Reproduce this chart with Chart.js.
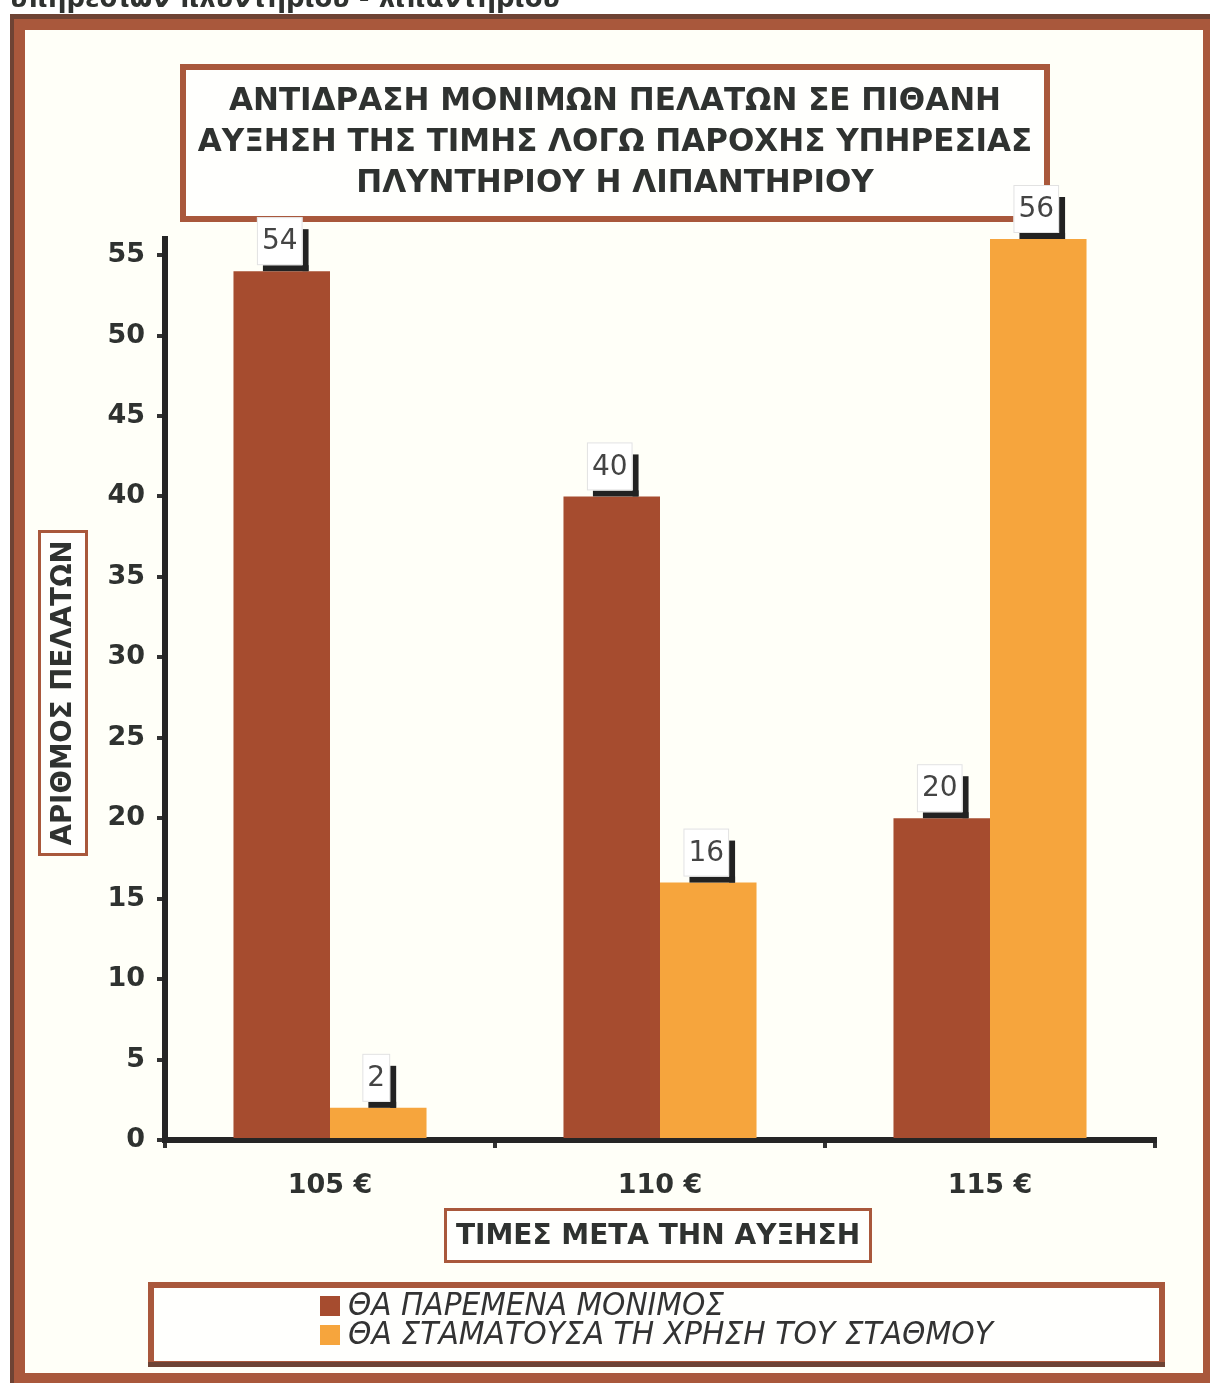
<!DOCTYPE html>
<html>
<head>
<meta charset="utf-8">
<script src="https://cdn.jsdelivr.net/npm/chart.js@4.4.1/dist/chart.umd.min.js"></script>
<style>
  html, body { margin: 0; padding: 0; background: #fff; }
  canvas { display: block; }
</style>
</head>
<body>
<canvas id="myChart" width="1210" height="1383"></canvas>
<script>
// Τιμές μετά την αύξηση και απαντήσεις πελατών
const categories = ["105 €", "110 €", "115 €"];
const stayed = [54, 40, 20];
const stopped = [2, 16, 56];
const seriesNames = ["ΘΑ ΠΑΡΕΜΕΝΑ ΜΟΝΙΜΟΣ", "ΘΑ ΣΤΑΜΑΤΟΥΣΑ ΤΗ ΧΡΗΣΗ ΤΟΥ ΣΤΑΘΜΟΥ"];
const titleLines = [
  "ΑΝΤΙΔΡΑΣΗ ΜΟΝΙΜΩΝ ΠΕΛΑΤΩΝ ΣΕ ΠΙΘΑΝΗ",
  "ΑΥΞΗΣΗ ΤΗΣ ΤΙΜΗΣ ΛΟΓΩ ΠΑΡΟΧΗΣ ΥΠΗΡΕΣΙΑΣ",
  "ΠΛΥΝΤΗΡΙΟΥ Η ΛΙΠΑΝΤΗΡΙΟΥ"
];
const yTitle = "ΑΡΙΘΜΟΣ ΠΕΛΑΤΩΝ";
const xTitle = "ΤΙΜΕΣ ΜΕΤΑ ΤΗΝ ΑΥΞΗΣΗ";
const topCaption = "υπηρεσιών πλυντήριου - λιπαντήριου";
const yTickValues = [0, 5, 10, 15, 20, 25, 30, 35, 40, 45, 50, 55];
const yMax = 56;

const BROWN = "#a64c2f";
const ORANGE = "#f6a53d";
const FRAME = "#a9583c";
const INK = "#2f3230";
const FONT = '"DejaVu Sans", sans-serif';

function boxed(ctx, x, y, w, h, lw) {
  ctx.fillStyle = "#fffffd";
  ctx.fillRect(x, y, w, h);
  ctx.strokeStyle = FRAME;
  ctx.lineWidth = lw;
  ctx.strokeRect(x + lw / 2, y + lw / 2, w - lw, h - lw);
}

// Πλαίσια, τίτλοι και υπόμνημα
const decor = {
  id: "decor",
  beforeDraw(chart) {
    const ctx = chart.ctx;
    ctx.save();
    ctx.fillStyle = "#ffffff";
    ctx.fillRect(0, 0, chart.width, chart.height);

    // κομμένη λεζάντα στην κορυφή
    ctx.fillStyle = INK;
    ctx.font = "bold 26px " + FONT;
    ctx.textAlign = "left";
    ctx.textBaseline = "alphabetic";
    ctx.fillText(topCaption, 10, 7, 550);

    // εξωτερικό πλαίσιο
    ctx.fillStyle = FRAME;
    ctx.fillRect(10, 14, 1210, 1383);
    ctx.fillStyle = "#6e4334";
    ctx.fillRect(10, 14, 1200, 5);
    ctx.fillRect(10, 14, 4, 1369);
    ctx.fillStyle = "#fffff8";
    ctx.fillRect(25, 30, 1178, 1343);

    // τίτλος
    boxed(ctx, 180, 64, 870, 158, 6);
    ctx.fillStyle = INK;
    ctx.font = "bold 31px " + FONT;
    ctx.textAlign = "center";
    ctx.textBaseline = "middle";
    const widths = [780, 837, 528];
    titleLines.forEach((t, i) => ctx.fillText(t, 615, 102 + i * 41, widths[i]));

    // τίτλος άξονα y
    boxed(ctx, 38, 530, 50, 326, 3);
    ctx.save();
    ctx.translate(64, 693);
    ctx.rotate(-Math.PI / 2);
    ctx.fillStyle = INK;
    ctx.font = "bold 28px " + FONT;
    ctx.fillText(yTitle, 0, 0, 305);
    ctx.restore();

    // τίτλος άξονα x
    boxed(ctx, 444, 1208, 428, 55, 3);
    ctx.fillStyle = INK;
    ctx.font = "bold 28px " + FONT;
    ctx.fillText(xTitle, 658, 1237, 407);

    // υπόμνημα
    boxed(ctx, 148, 1282, 1017, 85, 6);
    ctx.fillStyle = "#6e4334";
    ctx.fillRect(148, 1362, 1017, 5);
    const colors = [BROWN, ORANGE];
    const legendWidths = [376, 645];
    ctx.font = "italic 31px " + FONT;
    ctx.textAlign = "left";
    seriesNames.forEach((name, i) => {
      const y = 1306 + i * 29;
      ctx.fillStyle = colors[i];
      ctx.fillRect(320, y - 10, 20, 20);
      ctx.fillStyle = "#333";
      ctx.fillText(name, 348, y + 1, legendWidths[i]);
    });
    ctx.restore();
  }
};

// Ετικέτες τιμών πάνω από τις μπάρες
const valueLabels = {
  id: "valueLabels",
  afterDatasetsDraw(chart) {
    const ctx = chart.ctx;
    ctx.save();
    ctx.font = "28px " + FONT;
    ctx.textAlign = "center";
    ctx.textBaseline = "middle";
    chart.data.datasets.forEach((ds, i) => {
      chart.getDatasetMeta(i).data.forEach((bar, j) => {
        const text = String(ds.data[j]);
        const w = ctx.measureText(text).width + 10;
        const h = 48;
        const x0 = bar.x - w / 2 - 2;
        const y0 = bar.y - 6 - h;
        ctx.fillStyle = "#222";
        ctx.fillRect(x0 + w, y0 + 12, 6, h - 6);
        ctx.fillRect(x0 + 6, y0 + h, w, 6);
        ctx.fillStyle = "#ffffff";
        ctx.fillRect(x0, y0, w, h);
        ctx.strokeStyle = "#e2e2e2";
        ctx.lineWidth = 1;
        ctx.strokeRect(x0 + 0.5, y0 + 0.5, w - 1, h - 1);
        ctx.fillStyle = "#444";
        ctx.fillText(text, x0 + w / 2, y0 + h / 2 + 1);
      });
    });
    ctx.restore();
  }
};

const ctx = document.getElementById("myChart").getContext("2d");
new Chart(ctx, {
  type: "bar",
  data: {
    labels: categories,
    datasets: [
      { label: seriesNames[0], data: stayed, backgroundColor: BROWN },
      { label: seriesNames[1], data: stopped, backgroundColor: ORANGE }
    ]
  },
  options: {
    responsive: false,
    animation: false,
    layout: { padding: { top: 239, right: 55, bottom: 0, left: 0 } },
    datasets: { bar: { categoryPercentage: 0.585, barPercentage: 1 } },
    plugins: {
      legend: { display: false },
      title: { display: false },
      tooltip: { enabled: false }
    },
    scales: {
      x: {
        grid: { drawOnChartArea: false, offset: true, tickLength: 8, lineWidth: 4, color: "#333" },
        border: { color: "#252525", width: 6 },
        ticks: { color: INK, padding: 22, font: { family: FONT, size: 27, weight: "bold" } },
        afterFit(scale) { scale.height = 243; }
      },
      y: {
        min: 0,
        max: yMax,
        grid: { drawOnChartArea: false, tickLength: 8, lineWidth: 4, color: "#333" },
        border: { color: "#252525", width: 6 },
        ticks: { color: INK, padding: 12, font: { family: FONT, size: 27, weight: "bold" } },
        afterBuildTicks(scale) {
          scale.ticks = yTickValues.map((v) => ({ value: v }));
        },
        afterFit(scale) { scale.width = 165; }
      }
    }
  },
  plugins: [decor, valueLabels]
});
</script>
</body>
</html>
